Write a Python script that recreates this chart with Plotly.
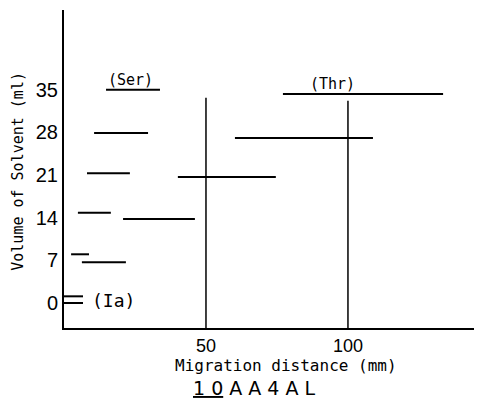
import plotly.graph_objects as go

# horizontal bands: start (mm), end (mm), solvent volume (ml)
seg_start = [14.8, 77.1, 10.6, 60.2, 8.1, 40.1, 4.9, 20.8, 2.5, 6.3, 0.0, 0.0]
seg_end = [33.8, 133.5, 29.6, 108.8, 23.2, 74.6, 16.5, 46.1, 8.8, 21.8, 6.7, 6.7]
seg_vol = [35.0, 34.3, 27.9, 27.1, 21.3, 20.7, 14.8, 13.8, 8.0, 6.7, 1.1, 0.0]

# vertical marker lines
vline_x = [50, 100]
vline_top = [33.7, 33.2]

y_ticks = [0, 7, 14, 21, 28, 35]
x_ticks = [50, 100]

labels = ["(Ser)", "(Thr)", "(Ia)"]
label_x = [23.4, 94.4, 17.5]
label_y = [36.6, 36.0, 0.4]

y_min, y_max = -4.1, 48.1
x_min, x_max = 0, 146.5

fig = go.Figure()

xs, ys = [], []
for a, b, v in zip(seg_start, seg_end, seg_vol):
    xs += [a, b, None]
    ys += [v, v, None]
fig.add_trace(go.Scatter(x=xs, y=ys, mode="lines",
                         line=dict(color="black", width=2), hoverinfo="skip"))

vx, vy = [], []
for x, top in zip(vline_x, vline_top):
    vx += [x, x, None]
    vy += [top, y_min, None]
fig.add_trace(go.Scatter(x=vx, y=vy, mode="lines",
                         line=dict(color="black", width=1.5), hoverinfo="skip"))

for t, x, y in zip(labels, label_x, label_y):
    fig.add_annotation(x=x, y=y, text=t, showarrow=False,
                       font=dict(family="DejaVu Sans Mono", size=18 if t == "(Ia)" else 15,
                                 color="black"))

fig.add_annotation(xref="paper", yref="paper", x=0.534, y=-0.118,
                   xanchor="center", yanchor="middle",
                   text="Migration distance (mm)", showarrow=False,
                   font=dict(family="DejaVu Sans Mono", size=16, color="black"))
fig.add_annotation(xref="paper", yref="paper", x=0.457, y=-0.19,
                   xanchor="center", yanchor="middle",
                   text="<u>1 0</u> A A 4 A L", showarrow=False,
                   font=dict(family="DejaVu Sans", size=19, color="black"))
fig.add_annotation(xref="paper", yref="paper", x=-0.111, y=0.494,
                   xanchor="center", yanchor="middle",
                   text="Volume of Solvent (ml)", textangle=-90, showarrow=False,
                   font=dict(family="DejaVu Sans Mono", size=15, color="black"))

fig.update_xaxes(range=[x_min, x_max], tickvals=x_ticks, ticks="",
                 showline=True, linecolor="black", linewidth=2,
                 showgrid=False, zeroline=False, automargin=False,
                 tickfont=dict(family="Liberation Sans", size=18, color="black"))
fig.update_yaxes(range=[y_min, y_max], tickvals=y_ticks, ticks="",
                 showline=True, linecolor="black", linewidth=2,
                 showgrid=False, zeroline=False, automargin=False,
                 tickfont=dict(family="Liberation Sans", size=20, color="black"))

# page body adds an 8px offset, so the figure is shrunk to fit the window
fig.update_layout(width=474, height=392, showlegend=False,
                  margin=dict(l=56, r=2, t=2, b=72),
                  plot_bgcolor="white", paper_bgcolor="white")

fig.write_html("out.html")
